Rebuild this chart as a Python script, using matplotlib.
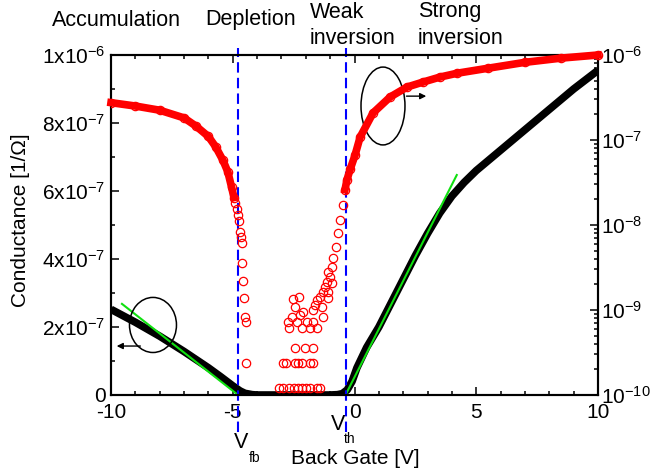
import matplotlib
matplotlib.use("Agg")
import matplotlib.pyplot as plt
from matplotlib.patches import Ellipse
from matplotlib.ticker import FixedLocator, NullFormatter, LogLocator
import numpy as np

plt.rcParams['font.family'] = ['Liberation Sans', 'DejaVu Sans']
plt.rcParams['mathtext.fontset'] = 'custom'
plt.rcParams['mathtext.rm'] = 'Liberation Sans'
plt.rcParams['mathtext.it'] = 'Liberation Sans:italic'
plt.rcParams['mathtext.default'] = 'regular'
plt.rcParams['axes.unicode_minus'] = False

# linear conductance (left axis), black
black_v = [-10, -9, -8, -7, -6, -5.5, -5, -4.7, -4.5, -4.2, -4, -3, -2, -1, -0.7,
           -0.5, -0.3, -0.1, 0.1, 0.5, 1, 1.5, 2, 2.5, 3, 3.5, 4, 4.5, 5, 6, 7, 8, 9, 10]
black_g = [2.52, 2.14, 1.73, 1.28, 0.80, 0.54, 0.27, 0.12, 0.05, 0.01, 0, 0, 0, 0, 0.01,
           0.04, 0.15, 0.40, 0.80, 1.40, 2.0, 2.7, 3.4, 4.1, 4.75, 5.35, 5.85, 6.25, 6.6,
           7.2, 7.8, 8.4, 9.0, 9.55]
black_g = [g * 1e-7 for g in black_g]

# linear fits (green)
fit_left_v = [-9.55, -4.78]
fit_left_g = [2.68e-7, 0.0]
fit_right_v = [-0.37, 4.2]
fit_right_g = [0.0, 6.47e-7]

# log conductance (right axis), red
red_left_v = [-10, -9, -8, -7, -6.5, -6, -5.7, -5.4, -5.2, -5.05, -4.95]
red_left_g = [2.75e-7, 2.51e-7, 2.24e-7, 1.82e-7, 1.45e-7, 1.10e-7, 8.3e-8, 5.75e-8,
              4.2e-8, 2.8e-8, 2.1e-8]
red_right_v = [-0.39, -0.31, -0.18, 0.02, 0.23, 0.76, 1.46, 2.16, 2.81, 3.51, 4.21,
               5.5, 7, 8.5, 10]
red_right_g = [2.6e-8, 3.4e-8, 4.5e-8, 6.6e-8, 1.08e-7, 2.08e-7, 3.2e-7, 4.2e-7, 4.8e-7,
               5.5e-7, 6.1e-7, 7.0e-7, 8.2e-7, 9.2e-7, 1.0e-6]
red_fb_v = [-4.91, -4.84, -4.78, -4.74, -4.70, -4.66, -4.62, -4.62, -4.58, -4.54,
            -4.50, -4.46, -4.46]
red_fb_g = [1.82e-8, 1.55e-8, 1.32e-8, 1.10e-8, 8.3e-9, 7.2e-9, 6.2e-9, 3.6e-9, 2.2e-9,
            1.4e-9, 8.3e-10, 7.2e-10, 2.4e-10]
red_mid_v = [-2.53, -2.28, -2.44, -2.57, -2.24, -2.11, -2.73, -2.36, -1.95, -1.70,
             -2.69, -2.16, -1.83, -1.54, -1.54, -1.62, -1.70, -1.42, -1.33, -1.29,
             -1.21, -1.13, -1.09, -1.09, -1.01, -0.92, -1.09, -0.92, -0.88, -0.76,
             -0.68, -0.60, -0.47, -1.29,
             -3.10, -2.94, -2.69, -2.48, -2.32, -2.16, -1.99, -1.83, -1.54, -1.42,
             -2.94, -2.81, -2.44, -2.32, -2.16, -1.83, -1.70,
             -2.44, -2.03, -1.70]
red_mid_g = [1.35e-9, 1.42e-9, 1.08e-9, 8.3e-10, 8.7e-10, 9.5e-10, 7.2e-10, 7.2e-10,
             7.2e-10, 7.2e-10, 6.1e-10, 6.1e-10, 6.1e-10, 6.1e-10, 1.31e-9, 1.15e-9,
             1.0e-9, 1.42e-9, 1.08e-9, 1.63e-9, 1.86e-9, 2.13e-9, 1.63e-9, 1.38e-9,
             2.44e-9, 2.08e-9, 2.8e-9, 3.2e-9, 4.1e-9, 5.5e-9, 8.1e-9, 1.15e-8,
             1.72e-8, 8.3e-10,
             1.2e-10, 1.2e-10, 1.2e-10, 1.2e-10, 1.2e-10, 1.2e-10, 1.2e-10, 1.2e-10,
             1.2e-10, 1.2e-10,
             2.4e-10, 2.4e-10, 2.4e-10, 2.4e-10, 2.4e-10, 2.4e-10, 2.4e-10,
             3.6e-10, 3.6e-10, 3.6e-10]

v_fb = -4.78
v_th = -0.35

left_ticks = [0, 2e-7, 4e-7, 6e-7, 8e-7, 1e-6]
left_labels = ['0', '2x10$^{-7}$', '4x10$^{-7}$', '6x10$^{-7}$', '8x10$^{-7}$', '1x10$^{-6}$']
right_ticks = [1e-10, 1e-9, 1e-8, 1e-7, 1e-6]
right_labels = ['10$^{-10}$', '10$^{-9}$', '10$^{-8}$', '10$^{-7}$', '10$^{-6}$']
x_ticks = [-10, -5, 0, 5, 10]

W, H = 651, 470
fig = plt.figure(figsize=(W / 100, H / 100), dpi=100)
L, R, T, B = 111, 598, 55, 395
ax = fig.add_axes([L / W, 1 - B / H, (R - L) / W, (B - T) / H])
ax2 = ax.twinx()

ax.set_xlim(-10, 10)
ax.set_ylim(0, 1e-6)
ax2.set_yscale('log')
ax2.set_ylim(1e-10, 1e-6)

# black band and fits
ax.plot(black_v, black_g, color='black', lw=5.5, solid_capstyle='butt', zorder=3)
ax.plot(fit_left_v, fit_left_g, color='#10e010', lw=1.5, zorder=4)
ax.plot(fit_right_v, fit_right_g, color='#10e010', lw=1.5, zorder=4)

# red open circles
ms = 6
ax2.plot(red_left_v, red_left_g, color='red', lw=5.5, zorder=3, clip_on=False)
ax2.plot(red_left_v, red_left_g, 'o', mfc='none', mec='red', ms=ms, mew=0.9, zorder=3)
ax2.plot(red_right_v, red_right_g, color='red', lw=5.5, zorder=3, clip_on=False)
ax2.plot(red_right_v, red_right_g, 'o', mfc='none', mec='red', ms=ms, mew=0.9, zorder=3,
         clip_on=False)
ax2.plot(red_fb_v, red_fb_g, 'o', mfc='none', mec='red', ms=ms, mew=0.9, zorder=3)
ax2.plot(red_mid_v, red_mid_g, 'o', mfc='none', mec='red', ms=ms, mew=0.9, zorder=3)

# flat-band and threshold markers
for xv in (v_fb, v_th):
    ax.axvline(xv, ymin=-0.11, ymax=1.02, color='#0000ff', lw=1.5, dashes=(5, 2.5),
               clip_on=False, zorder=5)

# ticks
ax.xaxis.set_major_locator(FixedLocator(x_ticks))
ax.xaxis.set_minor_locator(FixedLocator(np.arange(-10, 11, 1)))
ax.yaxis.set_major_locator(FixedLocator(left_ticks))
ax.yaxis.set_minor_locator(FixedLocator(np.arange(0, 1.01e-6, 1e-7)))
ax.set_yticklabels(left_labels)
ax.tick_params(which='both', direction='in', top=True, right=False, width=1.1,
               labelsize=15)
ax.tick_params(which='major', length=6)
ax.tick_params(which='minor', length=3)
ax.tick_params(axis='x', pad=6)
ax.tick_params(axis='y', pad=4)
ax2.yaxis.set_major_locator(FixedLocator(right_ticks))
ax2.yaxis.set_minor_locator(LogLocator(base=10, subs=np.arange(2, 10)))
ax2.yaxis.set_minor_formatter(NullFormatter())
ax2.set_yticklabels(right_labels)
ax2.tick_params(which='both', direction='in', width=1.1, labelsize=15, pad=2)
ax2.tick_params(which='major', length=6)
ax2.tick_params(which='minor', length=3)
for a in (ax, ax2):
    for s in a.spines.values():
        s.set_linewidth(1.5)

ax.set_xlabel('Back Gate [V]', fontsize=15)
ax.xaxis.set_label_coords((355 - L) / (R - L), (B - 458) / (B - T))
ax.xaxis.label.set_va('center')
ax.set_ylabel('Conductance [1/\u03a9]', fontsize=15)
ax.yaxis.set_label_coords((20 - L) / (R - L), (B - 220) / (B - T))
ax.yaxis.label.set_va('center')

# side markers: ellipses with arrows
ax.add_patch(Ellipse((0.0862, 0.206), 0.0965, 0.162, transform=ax.transAxes,
                     fill=False, lw=1.1, color='black', zorder=6))
ax.annotate('', xy=(0.006, 0.144), xytext=(0.066, 0.144), xycoords='axes fraction',
            arrowprops=dict(arrowstyle='-|>', color='black', lw=1, mutation_scale=9))
ax.add_patch(Ellipse((0.5585, 0.850), 0.0903, 0.229, transform=ax.transAxes,
                     fill=False, lw=1.1, color='black', zorder=6))
ax.annotate('', xy=(0.653, 0.879), xytext=(0.601, 0.879), xycoords='axes fraction',
            arrowprops=dict(arrowstyle='-|>', color='black', lw=1, mutation_scale=9))

def ftext(x, y, s, **kw):
    fig.text(x / W, 1 - y / H, s, va='center', **kw)

ftext(116, 20, 'Accumulation', fontsize=15.5, ha='center')
ftext(251, 20, 'Depletion', fontsize=15.5, ha='center')
ftext(310, 12, 'Weak', fontsize=15.5, ha='left')
ftext(310, 38, 'inversion', fontsize=15.5, ha='left')
ftext(418, 12, 'Strong', fontsize=15.5, ha='left')
ftext(418, 38, 'inversion', fontsize=15.5, ha='left')

ftext(241, 443, 'V', fontsize=15.5, ha='center')
ftext(255, 458, 'fb', fontsize=10, ha='center')
ftext(338, 425, 'V', fontsize=15.5, ha='center')
ftext(350, 439, 'th', fontsize=10, ha='center')

fig.savefig('out.png', dpi=100)
